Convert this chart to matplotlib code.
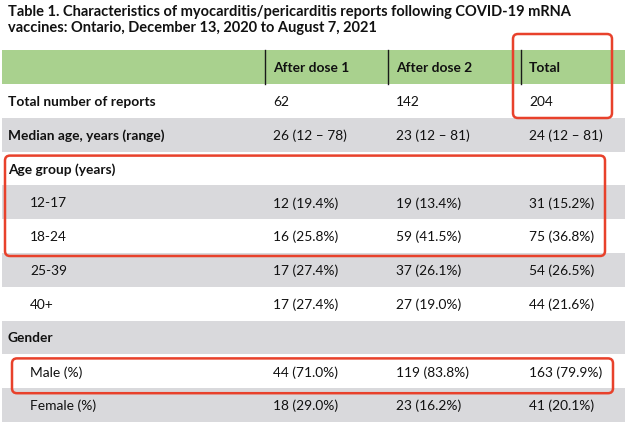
import matplotlib.pyplot as plt
from matplotlib.patches import Rectangle, FancyBboxPatch

plt.rcParams['font.family'] = ['Lato', 'DejaVu Sans']

title_lines = ["Table 1. Characteristics of myocarditis/pericarditis reports following COVID-19 mRNA",
               "vaccines: Ontario, December 13, 2020 to August 7, 2021"]
columns = ["After dose 1", "After dose 2", "Total"]
row_labels = ["Total number of reports", "Median age, years (range)", "Age group (years)",
              "12-17", "18-24", "25-39", "40+", "Gender", "Male (%)", "Female (%)"]
row_bold = [True, True, True, False, False, False, False, True, False, False]
dose1 = ["62", "26 (12 \u2013 78)", "", "12 (19.4%)", "16 (25.8%)", "17 (27.4%)",
         "17 (27.4%)", "", "44 (71.0%)", "18 (29.0%)"]
dose2 = ["142", "23 (12 \u2013 81)", "", "19 (13.4%)", "59 (41.5%)", "37 (26.1%)",
         "27 (19.0%)", "", "119 (83.8%)", "23 (16.2%)"]
total = ["204", "24 (12 \u2013 81)", "", "31 (15.2%)", "75 (36.8%)", "54 (26.5%)",
         "44 (21.6%)", "", "163 (79.9%)", "41 (20.1%)"]

W, H = 628, 428
fig = plt.figure(figsize=(W / 100, H / 100), dpi=100)
ax = fig.add_axes([0, 0, 1, 1])
ax.set_xlim(0, W)
ax.set_ylim(H, 0)
ax.axis('off')

green = '#a9d18e'
gray = '#d9d9dc'
red = '#e8412b'
txt = '#111111'

left, right = 2, 625
col_x = [265, 388, 521]
head_top, head_bot = 50, 84
rh = 33.8
fs = 9.9

# title
ax.text(8, 12, title_lines[0], fontsize=10.5, fontweight='bold', va='center', color=txt)
ax.text(8, 28, title_lines[1], fontsize=10.5, fontweight='bold', va='center', color=txt)

# header
ax.add_patch(Rectangle((left, head_top), right - left, head_bot - head_top, color=green, lw=0))
for cx, name in zip(col_x, columns):
    ax.plot([cx, cx], [head_top, head_bot], color='#1a1a1a', lw=1)
    ax.text(cx + 8, (head_top + head_bot) / 2 + 1, name, fontsize=fs, fontweight='bold',
            va='center', color=txt)

# body rows
for i, lab in enumerate(row_labels):
    y0 = head_bot + i * rh
    if i % 2 == 1:
        ax.add_patch(Rectangle((left, y0), right - left, rh, color=gray, lw=0))
    yc = y0 + rh / 2 + 1
    x_lab = 8 if row_bold[i] else 30
    ax.text(x_lab, yc, lab, fontsize=fs, fontweight='bold' if row_bold[i] else 'normal',
            va='center', color=txt)
    for cx, vals in zip(col_x, [dose1, dose2, total]):
        ax.text(cx + 8, yc, vals[i], fontsize=fs, va='center', color=txt)

# red highlight boxes
def box(x0, y0, x1, y1):
    ax.add_patch(FancyBboxPatch((x0, y0), x1 - x0, y1 - y0,
                                boxstyle="round,pad=0,rounding_size=5",
                                fill=False, ec=red, lw=1.8, zorder=5))

box(col_x[2] - 8, 34, 612, 118)
box(5, head_bot + 2 * rh + 4, 605, head_bot + 5 * rh + 3)
box(12, head_bot + 8 * rh + 4, 613, head_bot + 9 * rh + 5)

fig.savefig('out.png', dpi=100)
